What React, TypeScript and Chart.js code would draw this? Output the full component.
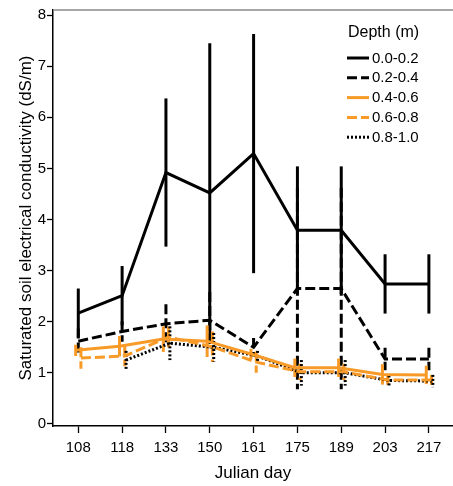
import React, { useEffect, useRef } from 'react';
import { Chart, registerables } from 'chart.js';

Chart.register(...registerables);

// ---- data ----
const days = ['108', '118', '133', '150', '161', '175', '189', '203', '217'];
const depthLabels = ['0.0-0.2', '0.2-0.4', '0.4-0.6', '0.6-0.8', '0.8-1.0'];
const yTicks = [0, 1, 2, 3, 4, 5, 6, 7, 8];

const mean00_02 = [2.17, 2.51, 4.92, 4.52, 5.29, 3.79, 3.79, 2.74, 2.74];
const err00_02 = [0.48, 0.58, 1.45, 2.93, 2.34, 1.25, 1.25, 0.58, 0.58];

const mean02_04 = [1.62, 1.81, 1.96, 2.03, 1.5, 2.65, 2.65, 1.27, 1.27];
const err02_04 = [0.25, 0.2, 0.38, 0.55, 0.18, 1.97, 1.97, 0.22, 0.22];

const mean04_06 = [1.44, 1.52, 1.66, 1.62, 1.37, 1.1, 1.1, 0.97, 0.96];
const err04_06 = [0.11, 0.2, 0.25, 0.31, 0.1, 0.18, 0.18, 0.2, 0.18];

const mean06_08 = [1.29, 1.33, 1.7, 1.51, 1.21, 1.02, 1.02, 0.86, 0.86];
const err06_08 = [0.21, 0.2, 0.2, 0.3, 0.21, 0.16, 0.16, 0.1, 0.1];

const mean08_10 = [null, 1.25, 1.58, 1.5, 1.33, 1.0, 1.0, 0.85, 0.84];
const err08_10 = [null, 0.18, 0.33, 0.28, 0.1, 0.25, 0.25, 0.1, 0.12];

const means = [mean00_02, mean02_04, mean04_06, mean06_08, mean08_10];
const errs = [err00_02, err02_04, err04_06, err06_08, err08_10];

// ---- styles ----
const BLACK = '#000000';
const ORANGE = '#F89A28';
const FONT = "'Liberation Sans', Arial, Helvetica, sans-serif";
const styles = [
  { color: BLACK, dash: [] as number[], dodge: 0 },
  { color: BLACK, dash: [10, 4], dodge: 0 },
  { color: ORANGE, dash: [] as number[], dodge: -0.06 },
  { color: ORANGE, dash: [10, 4], dodge: 0.06 },
  { color: BLACK, dash: [2, 2], dodge: 0.09 },
];

const errorBarPlugin = {
  id: 'errorBars',
  beforeDatasetsDraw(chart: any) {
    const { ctx, scales } = chart;
    const xs = scales.x;
    const ys = scales.y;
    chart.data.datasets.forEach((ds: any) => {
      ctx.save();
      ctx.strokeStyle = ds.borderColor;
      ctx.lineWidth = ds.borderWidth;
      ctx.setLineDash(ds.borderDash || []);
      ctx.lineCap = 'butt';
      ds.data.forEach((p: any, i: number) => {
        const e = ds.errors[i];
        if (e == null) return;
        const px = xs.getPixelForValue(p.x);
        ctx.beginPath();
        ctx.moveTo(px, ys.getPixelForValue(p.y + e));
        ctx.lineTo(px, ys.getPixelForValue(p.y - e));
        ctx.stroke();
      });
      ctx.restore();
    });
  },
};

const framePlugin = {
  id: 'frameAndLegend',
  afterDraw(chart: any) {
    const { ctx, chartArea } = chart;
    ctx.save();
    // top frame line
    ctx.strokeStyle = '#8a8a8a';
    ctx.lineWidth = 1.5;
    ctx.beginPath();
    ctx.moveTo(chartArea.left, chartArea.top);
    ctx.lineTo(chartArea.right, chartArea.top);
    ctx.stroke();

    // legend
    const lx = chartArea.right - 106;
    ctx.fillStyle = '#000';
    ctx.textBaseline = 'middle';
    ctx.textAlign = 'left';
    ctx.font = `16px ${FONT}`;
    ctx.fillText('Depth (m)', lx + 1, chartArea.top + 23);
    ctx.font = `15px ${FONT}`;
    depthLabels.forEach((lab, i) => {
      const y = chartArea.top + 48 + i * 19.8;
      ctx.strokeStyle = styles[i].color;
      ctx.lineWidth = 3;
      ctx.setLineDash(styles[i].dash);
      ctx.beginPath();
      ctx.moveTo(lx, y);
      ctx.lineTo(lx + 22, y);
      ctx.stroke();
      ctx.setLineDash([]);
      ctx.fillStyle = '#000';
      ctx.fillText(lab, lx + 25, y + 0.5);
    });
    ctx.restore();
  },
};

export default function App() {
  const canvasRef = useRef<HTMLCanvasElement | null>(null);

  useEffect(() => {
    document.body.style.margin = '0';
    const canvas = canvasRef.current;
    if (!canvas) return;

    const datasets = means.map((m, s) => {
      const pts: any[] = [];
      const es: any[] = [];
      m.forEach((v, i) => {
        if (v == null) return;
        pts.push({ x: i + styles[s].dodge, y: v });
        es.push(errs[s][i]);
      });
      return {
        label: depthLabels[s],
        data: pts,
        errors: es,
        borderColor: styles[s].color,
        backgroundColor: styles[s].color,
        borderWidth: 3,
        borderDash: styles[s].dash,
        pointRadius: 0,
        tension: 0,
        fill: false,
      } as any;
    });

    const chart = new Chart(canvas, {
      type: 'line',
      data: { datasets },
      options: {
        animation: false,
        responsive: true,
        maintainAspectRatio: false,
        layout: { padding: { top: 9, right: 0, bottom: 0, left: 0 } },
        plugins: {
          legend: { display: false },
          tooltip: { enabled: false },
        },
        scales: {
          x: {
            type: 'linear',
            min: -0.577,
            max: 8.55,
            afterBuildTicks: (scale: any) => {
              scale.ticks = days.map((_, i) => ({ value: i }));
            },
            afterFit: (scale: any) => {
              scale.height = 60;
            },
            ticks: {
              callback: (v: any) => days[Math.round(Number(v))] ?? '',
              color: '#000',
              font: { family: FONT, size: 15 },
              padding: 6,
              maxRotation: 0,
              autoSkip: false,
            },
            grid: {
              drawOnChartArea: false,
              drawTicks: true,
              tickLength: 7,
              color: '#000',
              tickWidth: 1.3,
            },
            border: { display: true, color: '#000', width: 1.5 },
            title: {
              display: true,
              text: 'Julian day',
              color: '#000',
              font: { family: FONT, size: 17 },
              padding: { top: 0, bottom: 2 },
            },
          },
          y: {
            type: 'linear',
            min: -0.04,
            max: 8.1,
            afterBuildTicks: (scale: any) => {
              scale.ticks = yTicks.map((v) => ({ value: v }));
            },
            afterFit: (scale: any) => {
              scale.width = 53;
            },
            ticks: {
              color: '#000',
              font: { family: FONT, size: 15 },
              padding: 1,
            },
            grid: {
              drawOnChartArea: false,
              drawTicks: true,
              tickLength: 6,
              color: '#000',
              tickWidth: 1.3,
            },
            border: { display: true, color: '#000', width: 1.5 },
            title: {
              display: true,
              text: 'Saturated soil electrical conductivity (dS/m)',
              color: '#000',
              font: { family: FONT, size: 17 },
              padding: { top: 16, bottom: 0 },
            },
          },
        },
      },
      plugins: [errorBarPlugin, framePlugin],
    });

    return () => chart.destroy();
  }, []);

  return (
    <div style={{ width: 453, height: 486, position: 'relative' }}>
      <canvas ref={canvasRef} />
    </div>
  );
}
